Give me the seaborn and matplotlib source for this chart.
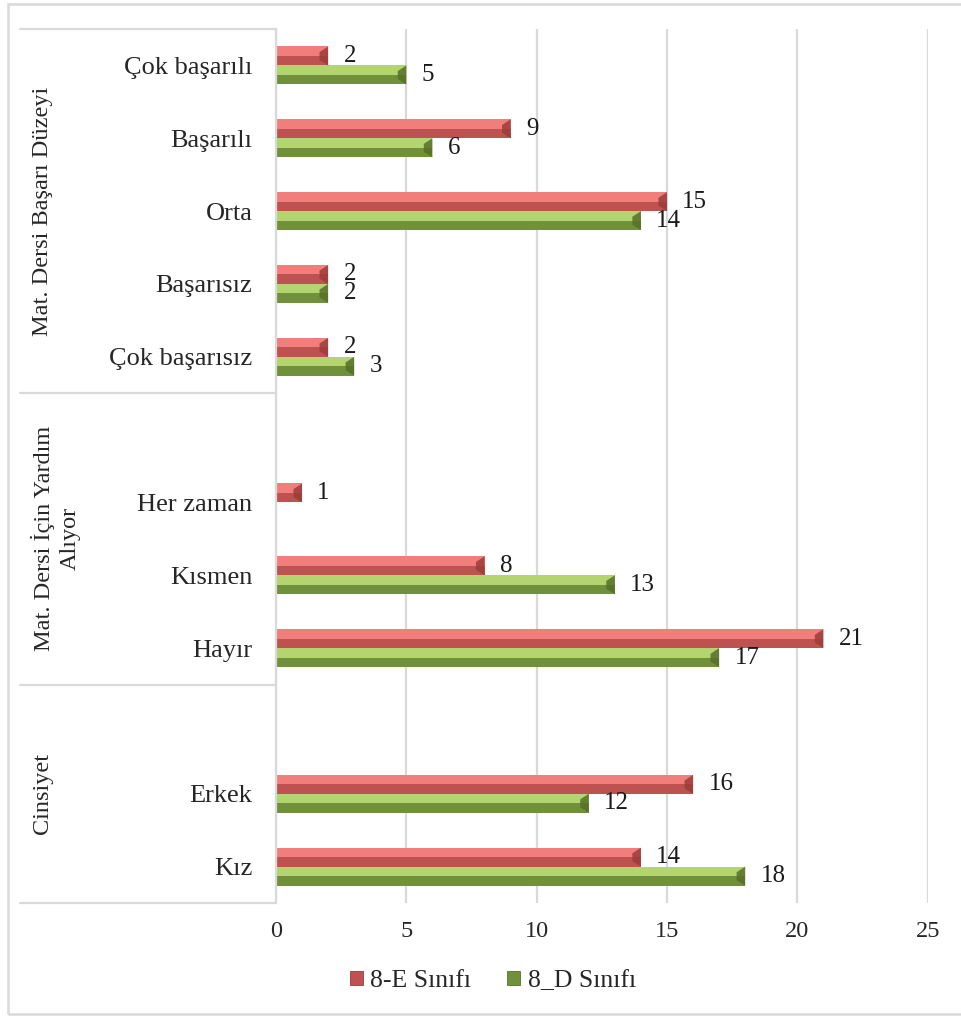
import numpy as np
import pandas as pd
import matplotlib
matplotlib.use("Agg")
import matplotlib.pyplot as plt
import matplotlib.transforms as mtransforms
from matplotlib.patches import Rectangle, Polygon
import seaborn as sns

# ---- data -------------------------------------------------------------
categories = ["Çok başarılı", "Başarılı", "Orta", "Başarısız", "Çok başarısız", "_sp1",
              "Her zaman", "Kısmen", "Hayır", "_sp2", "Erkek", "Kız"]
series_names = ["8-E Sınıfı", "8_D Sınıfı"]
values_e = [2, 9, 15, 2, 2, np.nan, 1, 8, 21, np.nan, 16, 14]
values_d = [5, 6, 14, 2, 3, np.nan, np.nan, 13, 17, np.nan, 12, 18]
group_names = ["Mat. Dersi Başarı Düzeyi", "Mat. Dersi İçin Yardım\nAlıyor", "Cinsiyet"]
group_sizes = [5, 4, 3]
x_ticks = [0, 5, 10, 15, 20, 25]

# ---- style ------------------------------------------------------------
sns.set_style("white")
plt.rcParams["font.family"] = ["Liberation Serif", "DejaVu Serif"]
FS = 17.5
base_colors = ["#BE5250", "#71903B"]
light_colors = ["#F27E7C", "#B3D46E"]
shade_colors = ["#9C3C3A", "#56702A"]
grid_col = "#D9D9D9"

rows = []
for name, vals in zip(series_names, [values_e, values_d]):
    for c, v in zip(categories, vals):
        rows.append({"category": c, "series": name, "value": v})
df = pd.DataFrame(rows)

fig = plt.figure(figsize=(9.62, 10.17), dpi=100)
ax = fig.add_axes([276 / 962, 1 - 903 / 1017, (927.7 - 276) / 962, (903 - 29) / 1017])

sns.barplot(data=df, y="category", x="value", hue="series", order=categories,
            hue_order=series_names, palette=base_colors, width=0.52, orient="h",
            saturation=1, legend=False, ax=ax, linewidth=0)

ax.set_xlim(0, 25)
ax.set_ylim(len(categories) - 0.5, -0.5)
ax.set_xticks(x_ticks)
ax.set_xticklabels([str(t) for t in x_ticks], fontsize=FS, color="#262626")
ax.set_yticks(range(len(categories)))
ax.set_yticklabels(["" if c.startswith("_") else c for c in categories],
                   fontsize=19, color="#262626")
ax.tick_params(axis="both", length=0)
ax.tick_params(axis="x", pad=13)
ax.tick_params(axis="y", pad=17)
ax.set_xlabel("")
ax.set_ylabel("")
ax.xaxis.grid(True, color=grid_col, lw=1.6)
ax.set_axisbelow(True)
for s in ["top", "right", "bottom"]:
    ax.spines[s].set_visible(False)
ax.spines["left"].set_color(grid_col)
ax.spines["left"].set_linewidth(1.6)

# bevelled look on each bar: light upper half and a shaded facet at the end
bevel = 0.33
for ci, cont in enumerate(ax.containers):
    for bar in cont:
        w = bar.get_width()
        if not np.isfinite(w) or w <= 0:
            continue
        x0, y0, h = bar.get_x(), bar.get_y(), bar.get_height()
        ax.add_patch(Rectangle((x0, y0), w, h * 0.5, color=light_colors[ci], lw=0, zorder=bar.get_zorder() + 0.1))
        d = min(bevel, w * 0.4)
        xe = x0 + w
        ax.add_patch(Polygon([(xe, y0), (xe, y0 + h), (xe - d, y0 + h * 0.72), (xe - d, y0 + h * 0.3)],
                             closed=True, color=shade_colors[ci], lw=0, alpha=0.85,
                             zorder=bar.get_zorder() + 0.2))
    labels = ["" if not np.isfinite(b.get_width()) else f"{b.get_width():.0f}" for b in cont]
    ax.bar_label(cont, labels=labels, padding=11, fontsize=FS + 0.5, color="#1a1a1a")

# group frame on the left
trans = mtransforms.blended_transform_factory(ax.transAxes, ax.transData)
x_left = (20 - 276) / (927.7 - 276)
bounds = np.concatenate([[-0.5], np.cumsum(group_sizes) - 0.5])
for b in bounds:
    ax.plot([x_left, 0], [b, b], transform=trans, color=grid_col, lw=1.6, clip_on=False)
label_x = [-0.359, -0.338, -0.359]
for name, lo, hi, lx in zip(group_names, bounds[:-1], bounds[1:], label_x):
    ax.text(lx, (lo + hi) / 2, name, transform=trans, rotation=90, ha="center", va="center",
            fontsize=FS, color="#262626", linespacing=1.25, multialignment="center")

# legend
handles = [Rectangle((0, 0), 1, 1, facecolor=c, edgecolor=s, lw=0.6) for c, s in zip(base_colors, shade_colors)]
fig.legend(handles, series_names, loc="center", bbox_to_anchor=(493 / 962, 1 - 981 / 1017),
           ncol=2, frameon=False, fontsize=18.5, handlelength=0.5, handleheight=0.5,
           handletextpad=0.3, columnspacing=1.4)

# outer chart frame
fig.add_artist(Rectangle((8 / 962, 1 - 1014 / 1017), 1.0, (1014 - 4) / 1017,
                         transform=fig.transFigure, fill=False, ec=grid_col, lw=1.8))

fig.savefig("out.png", dpi=100)
